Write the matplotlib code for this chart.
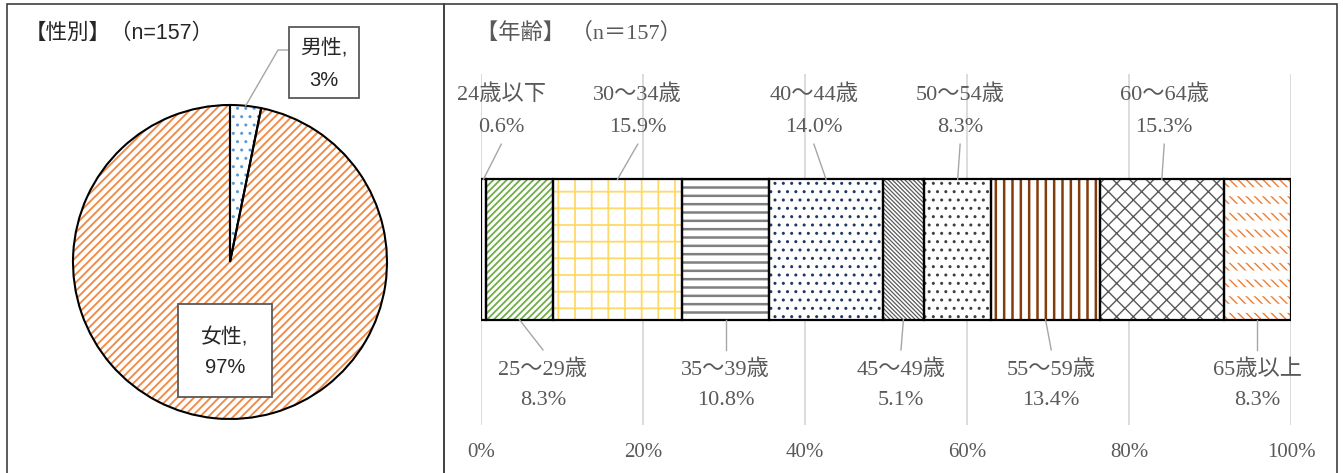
import matplotlib
matplotlib.use('Agg')
import matplotlib.pyplot as plt
from matplotlib.patches import Rectangle
import numpy as np

# ---- data ----
gender_labels = ['男性', '女性']
gender_counts = [5, 152]          # n=157
age_labels = ['24歳以下', '25～29歳', '30～34歳', '35～39歳', '40～44歳',
              '45～49歳', '50～54歳', '55～59歳', '60～64歳', '65歳以上']
age_pct = [0.6, 8.3, 15.9, 10.8, 14.0, 5.1, 8.3, 13.4, 15.3, 8.3]
x_ticks = [0, 20, 40, 60, 80, 100]

# ---- styles ----
W, H = 1343, 473
SANS = ['Liberation Sans', 'Noto Sans CJK JP', 'DejaVu Sans']
SERIF = ['Liberation Serif', 'Noto Sans CJK JP', 'DejaVu Sans']
TXT_L = '#262626'
TXT_R = '#595959'
LEADER = '#A6A6A6'
age_hatch = ['', '/' * 5, '+', '--', '..', '\\' * 8, '..', '||', 'xx', '\\' * 4]
age_hcolor = ['white', '#70AD47', '#FFD966', '#7F7F7F', '#1F3864',
              '#595959', '#404040', '#843C0C', '#595959', '#ED7D31']
age_hlw = [1, 1.3, 1.3, 1.8, 1, 0.9, 1, 1.8, 1.0, 1.0]
label_above = [True, False] * 5
label_dx = [2.2, 2.9, 2.5, 0.0, -1.5, -0.3, 0.3, 0.7, 0.3, 0.0]

plt.rcParams['hatch.linewidth'] = 1.0


def fx(px):
    return px / W


def fy(py):
    return 1 - py / H


def hatch_lw(patch, lw):
    if hasattr(patch, 'set_hatch_linewidth'):
        patch.set_hatch_linewidth(lw)


fig = plt.figure(figsize=(W / 100, H / 100), dpi=100)

# panel frames
for x0, x1 in [(7, 444), (444, 1337)]:
    fig.add_artist(Rectangle((fx(x0), fy(480)), fx(x1) - fx(x0), fy(4) - fy(480),
                             transform=fig.transFigure, fill=False,
                             edgecolor='#404040', linewidth=1.2))

# ---- left: gender pie ----
cx, cy, r = 230, 262, 157
ax1 = fig.add_axes([fx(cx - r), fy(cy + r), fx(2 * r), (2 * r) / H])
n = sum(gender_counts)
fig.text(fx(25), fy(33), f'【性別】（n={n}）', fontsize=15.5, color=TXT_L,
         family=SANS, va='center', ha='left')

w_fill, _ = ax1.pie(gender_counts, startangle=90, counterclock=False,
                    colors=['white', 'white'], wedgeprops=dict(linewidth=0))
for w, h, c, lw in zip(w_fill, ['..', '////'], ['#5B9BD5', '#F08A46'], [1.0, 1.35]):
    w.set_hatch(h)
    w.set_edgecolor(c)
    hatch_lw(w, lw)
ax1.pie(gender_counts, startangle=90, counterclock=False,
        wedgeprops=dict(fill=False, edgecolor='black', linewidth=1.5))
ax1.set_xlim(-1, 1)
ax1.set_ylim(-1, 1)


def pd_(px, py):
    return (px - cx) / r, (cy - py) / r


pct = [round(c / n * 100) for c in gender_counts]
# male label box with leader
mid = 90 - gender_counts[0] / n * 360 / 2
sx, sy = np.cos(np.radians(mid)), np.sin(np.radians(mid))
ex, ey = pd_(278, 50)
bx, _ = pd_(289, 50)
ax1.plot([sx, ex, bx], [sy, ey, ey], color=LEADER, lw=1, clip_on=False)
for (x0, y0, x1, y1), name, p, (t1, t2) in [
        ((289, 27, 359, 98), gender_labels[0], pct[0], (48, 80)),
        ((178, 304, 272, 397), gender_labels[1], pct[1], (337, 367))]:
    a0, b0 = pd_(x0, y1)
    a1, b1 = pd_(x1, y0)
    ax1.add_patch(Rectangle((a0, b0), a1 - a0, b1 - b0, facecolor='white',
                            edgecolor='#595959', lw=1.3, clip_on=False, zorder=5))
    tx = (a0 + a1) / 2
    ax1.text(tx, pd_(0, t1)[1], name + ',', fontsize=15, color=TXT_L, family=SANS,
             ha='center', va='center', zorder=6)
    ax1.text(tx, pd_(0, t2)[1], f'{p}%', fontsize=14.5, color=TXT_L, family=SANS,
             ha='center', va='center', zorder=6)

# ---- right: age stacked bar ----
ax2 = fig.add_axes([fx(481), fy(425), fx(1291) - fx(481), (425 - 74) / H])
fig.text(fx(476), fy(33), '【年齢】 （n＝157）', fontsize=16, color=TXT_R,
         family=SERIF, va='center', ha='left')

lefts = np.concatenate([[0], np.cumsum(age_pct)[:-1]])
bars = ax2.barh([0.5] * len(age_pct), age_pct, left=lefts, height=0.4, color='white',
                edgecolor=age_hcolor, hatch=age_hatch, linewidth=0, zorder=2)
for b, lw in zip(bars, age_hlw):
    hatch_lw(b, lw)
# white horizontal bands break the last pattern into rows of short dashes
gap = ax2.barh([0.5], age_pct[-1:], left=lefts[-1:], height=0.4, fill=False,
               edgecolor='white', hatch='-', linewidth=0, zorder=2.5)
hatch_lw(gap[0], 6.5)
ax2.barh([0.5] * len(age_pct), age_pct, left=lefts, height=0.4, fill=False,
         edgecolor='black', linewidth=1.6, zorder=3)

centers = lefts + np.array(age_pct) / 2
for c, lab, v, up, dx in zip(centers, age_labels, age_pct, label_above, label_dx):
    tx = c + dx
    if up:
        ax2.plot([c, tx], [0.7, 0.8], color=LEADER, lw=1, zorder=4)
        y1, y2 = 0.94, 0.849
    else:
        ax2.plot([c, tx], [0.3, 0.214], color=LEADER, lw=1, zorder=4)
        y1, y2 = 0.157, 0.071
    ax2.text(tx, y1, lab, fontsize=16, color=TXT_R, family=SERIF,
             ha='center', va='center')
    ax2.text(tx, y2, f'{v:.1f}%', fontsize=16, color=TXT_R, family=SERIF,
             ha='center', va='center')

ax2.set_xlim(0, 100)
ax2.set_ylim(0, 1)
ax2.set_yticks([])
ax2.set_xticks(x_ticks)
ax2.set_xticklabels([f'{t}%' for t in x_ticks], family=SERIF, fontsize=15,
                    color=TXT_R)
ax2.tick_params(axis='x', length=0, pad=13)
ax2.grid(axis='x', color='#D9D9D9', linewidth=1.3)
ax2.set_axisbelow(True)
for s in ax2.spines.values():
    s.set_visible(False)
ax2.patch.set_alpha(0)

fig.savefig('out.png', dpi=100)
